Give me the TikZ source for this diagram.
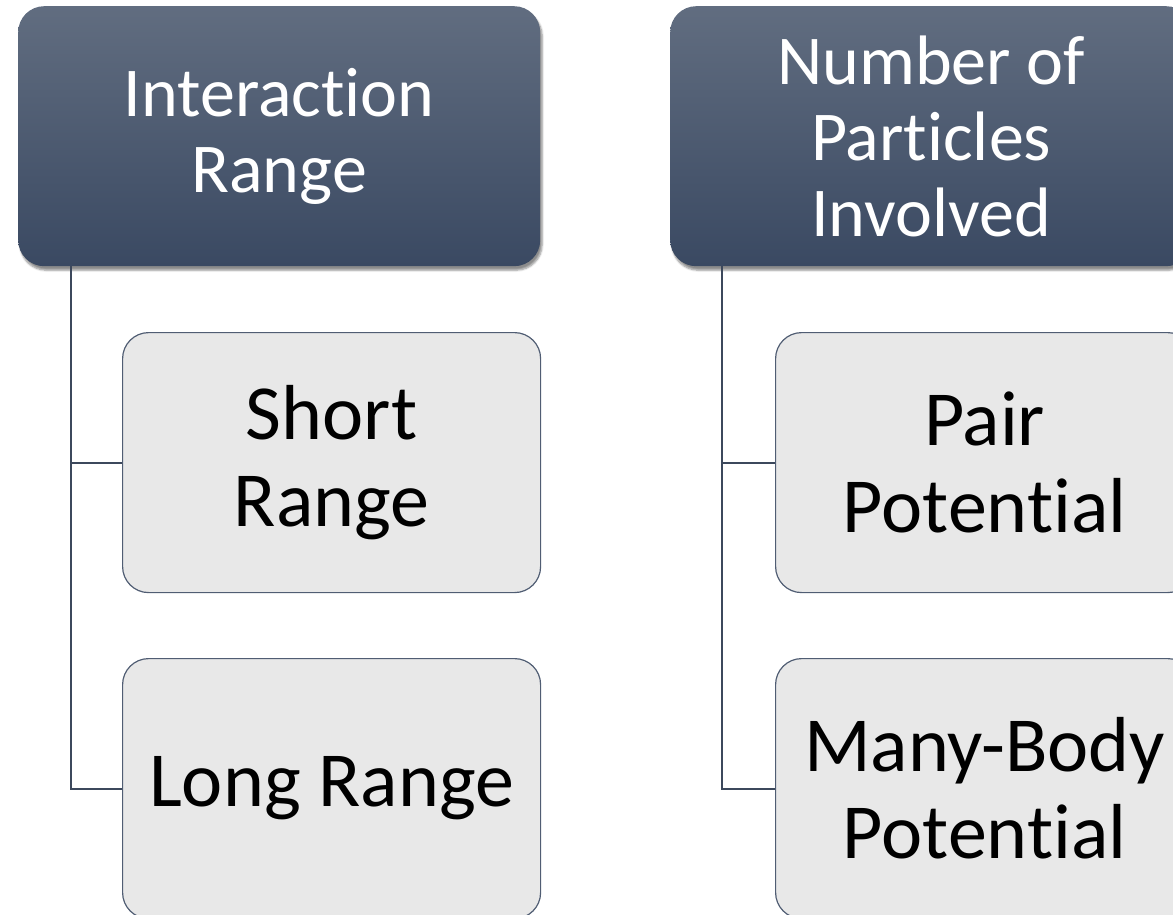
\documentclass[tikz,border=0pt]{standalone}
\usepackage{fontspec}
\setmainfont{Carlito}[Ligatures={NoCommon,NoRare,NoContextual}]
\usetikzlibrary{shadows.blur}
\definecolor{hdtop}{RGB}{97,109,128}
\definecolor{hdbot}{RGB}{58,73,98}
\definecolor{chfill}{RGB}{232,232,232}
\definecolor{chline}{RGB}{80,93,115}
\definecolor{conn}{RGB}{60,72,92}
\tikzset{
  header/.style={anchor=north west, minimum width=522pt, minimum height=260pt,
    rounded corners=26pt, top color=hdtop, bottom color=hdbot, draw=none,
    text=white, align=center, inner sep=0pt,
    font=\fontsize{70}{76}\selectfont,
    blur shadow={shadow xshift=2pt, shadow yshift=-4pt, shadow blur steps=6, shadow opacity=45}},
  child/.style={anchor=north west, minimum width=418pt, minimum height=260pt,
    rounded corners=26pt, fill=chfill, draw=chline, line width=1.2pt,
    text=black, align=center, inner sep=0pt,
    font=\fontsize{78}{87}\selectfont},
  connector/.style={draw=conn, line width=2.2pt}
}
\begin{document}
\begin{tikzpicture}[x=1pt,y=-1pt]
\clip (0,0) rectangle (1173,915);
\useasboundingbox (0,0) rectangle (1173,915);
\node[header] (h1) at (18,6) {Interaction\\Range};
\node[header] (h2) at (670,6) {Number of\\Particles\\Involved};
\node[child] (c1) at (122,332) {Short\\Range};
\node[child] (c2) at (122,658) {Long Range};
\node[child] (c3) at (775,332) {Pair\\Potential};
\node[child] (c4) at (775,658) {Many-Body\\Potential};
\coordinate (v1) at (71,0);
\coordinate (v2) at (722,0);
\draw[connector] (h1.south -| v1) |- (c1.west);
\draw[connector] (h1.south -| v1) |- (c2.west);
\draw[connector] (h2.south -| v2) |- (c3.west);
\draw[connector] (h2.south -| v2) |- (c4.west);
\end{tikzpicture}
\end{document}
